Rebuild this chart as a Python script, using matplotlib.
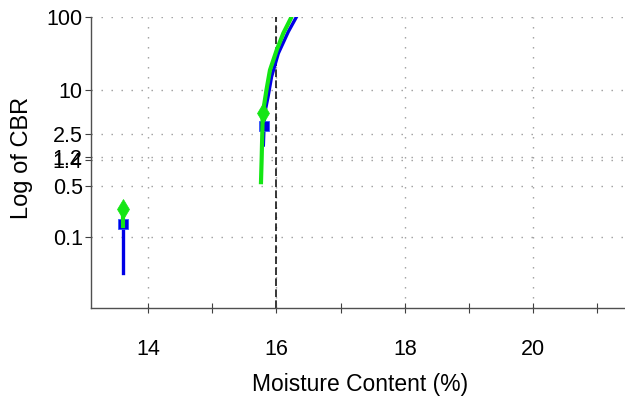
import matplotlib
matplotlib.use("Agg")
import matplotlib.pyplot as plt
from matplotlib.ticker import FixedLocator, NullFormatter

# ---- data ----
# sample 1 (x ~ 13.6)
s1_blue_x = [13.61, 13.61]
s1_blue_y = [0.15, 0.033]
s1_green_x = [13.61, 13.61]
s1_green_y = [0.24, 0.14]

# sample 2 curves
s2_green_x = [15.760, 15.771, 15.780, 15.787, 15.800, 15.845, 15.900, 16.005, 16.107, 16.225, 16.235]
s2_green_y = [0.56, 1.22, 2.6, 4.82, 5.6, 10.0, 18.7, 35.0, 59.0, 94.4, 100.0]
s2_blue_x = [15.797, 15.808, 15.818, 15.870, 15.925, 16.030, 16.185, 16.316]
s2_blue_y = [1.79, 3.27, 4.86, 8.1, 15.2, 31.5, 62.0, 100.0]

# markers (first point of each sample)
marker_blue_x = [13.61, 15.808]
marker_blue_y = [0.15, 3.27]
marker_green_x = [13.61, 15.787]
marker_green_y = [0.24, 4.82]

ref_x = 16.0

x_major = [14, 16, 18, 20]
x_minor = [15, 17, 19, 21]
x_labels = ["14", "16", "18", "20"]
y_ticks = [0.1, 0.5, 1.12, 1.25, 2.5, 10, 100]
y_labels = ["0.1", "0.5", "1.4", "1.2", "2.5", "10", "100"]

xlim = (13.1075, 21.43)
ylim = (0.0108, 100)

FONT = ["Liberation Sans Narrow", "Liberation Sans", "DejaVu Sans"]
plt.rcParams["font.family"] = FONT

fig = plt.figure(figsize=(6.25, 4.05), dpi=100)
ax = fig.add_axes([90.7 / 625, (405 - 308.3) / 405, 1 - 90.7 / 625, (308.3 - 16.5) / 405])
ax.set_yscale("log")
ax.set_xlim(*xlim)
ax.set_ylim(*ylim)

grid_kw = dict(color="#9a9a9a", linewidth=1.0, linestyle=(0, (1, 6.2)), zorder=0)
for yv in y_ticks:
    ax.axhline(yv, **grid_kw)
for xv in x_major:
    ax.axvline(xv, **grid_kw)

ax.axvline(ref_x, color="black", linewidth=1.1, linestyle=(0, (5, 2.2)), zorder=1)

blue = "#0000e6"
green = "#14e614"
ax.plot(s1_blue_x, s1_blue_y, color=blue, linewidth=2.4, zorder=2)
ax.plot(s2_blue_x, s2_blue_y, color=blue, linewidth=2.4, zorder=2)
ax.plot(marker_blue_x, marker_blue_y, linestyle="none", marker="s", markersize=6.5,
        markerfacecolor=blue, markeredgecolor="#3355ff", markeredgewidth=0.6, zorder=3)
ax.plot(s1_green_x, s1_green_y, color=green, linewidth=3.0, zorder=4)
ax.plot(s2_green_x, s2_green_y, color=green, linewidth=3.0, zorder=4)
ax.plot(marker_green_x, marker_green_y, linestyle="none", marker="d", markersize=10,
        markerfacecolor=green, markeredgecolor=green, markeredgewidth=0.5, zorder=5)

for s in ("top", "right"):
    ax.spines[s].set_visible(False)
for s in ("left", "bottom"):
    ax.spines[s].set_color("#505050")
    ax.spines[s].set_linewidth(1.0)

ax.xaxis.set_major_locator(FixedLocator(x_major))
ax.xaxis.set_minor_locator(FixedLocator(x_minor))
ax.set_xticklabels(x_labels)
ax.xaxis.set_minor_formatter(NullFormatter())
ax.tick_params(axis="x", which="both", direction="inout", length=6.5, width=0.8,
               color="#404040", pad=18.5, labelsize=15.5)
ax.yaxis.set_major_locator(FixedLocator(y_ticks))
ax.yaxis.set_minor_locator(FixedLocator([]))
ax.set_yticklabels(y_labels)
ax.tick_params(axis="y", which="both", direction="out", length=4.3, width=0.8,
               color="#404040", pad=1.5, labelsize=15.5)

ax.set_xlabel("Moisture Content (%)", fontsize=16.5)
ax.xaxis.set_label_coords((360 - 90.7) / 534.3, (308.3 - 385) / 291.8)
ax.xaxis.label.set_va("center")
ax.set_ylabel("Log of CBR", fontsize=17)
ax.yaxis.set_label_coords((22 - 90.7) / 534.3, (308.3 - 158) / 291.8)
ax.yaxis.label.set_va("center")

fig.savefig("out.png", dpi=100)
